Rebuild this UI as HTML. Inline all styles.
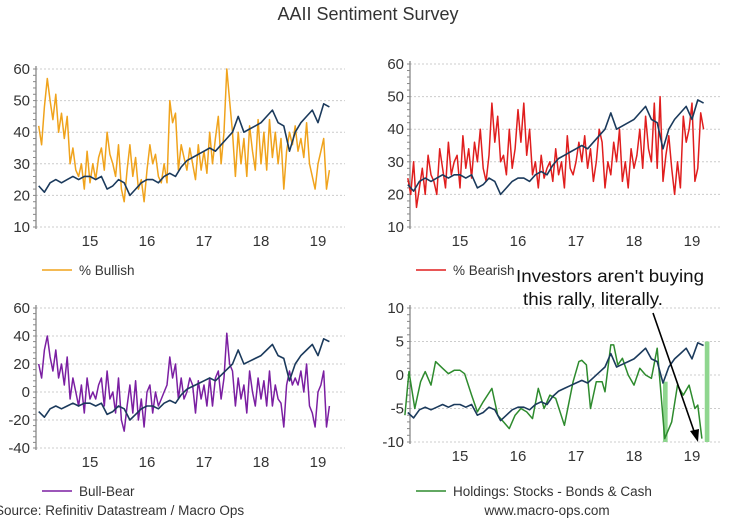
<!DOCTYPE html>
<html><head><meta charset="utf-8">
<style>
html,body{margin:0;padding:0;background:#fff;}
svg{display:block;font-family:"Liberation Sans",sans-serif;}
</style></head>
<body>
<svg id="c" width="735" height="518" viewBox="0 0 735 518">
<text x="368" y="20" text-anchor="middle" font-size="18" fill="#333">AAII Sentiment Survey</text>
<g id="g"></g>
<text x="-5" y="515" font-size="13.5" fill="#333">Source: Refinitiv Datastream / Macro Ops</text>
<text x="547" y="515" text-anchor="middle" font-size="13.5" fill="#333">www.macro-ops.com</text>
<text x="610" y="282" text-anchor="middle" font-size="17.5" fill="#111" textLength="188" lengthAdjust="spacingAndGlyphs">Investors aren't buying</text>
<text x="593" y="305" text-anchor="middle" font-size="17.5" fill="#111" textLength="140" lengthAdjust="spacingAndGlyphs">this rally, literally.</text>
<line x1="653" y1="313" x2="695" y2="434" stroke="#000" stroke-width="1.6"/>
<polygon points="698,442 690,431 699,429" fill="#000"/>
</svg>
<script>
const yearTicks=[15,16,17,18,19];
const tickLabels=["15","16","17","18","19"];
const stepStart=14.1, step=0.05;
const bullish=[42,36,48,57,50,44,52,40,46,38,45,30,35,28,26,30,22,34,24,30,25,32,35,28,40,33,30,26,36,22,18,28,36,26,32,22,25,18,28,36,30,33,26,24,30,24,50,43,46,28,36,32,28,35,30,25,36,28,34,27,40,30,38,45,30,40,60,50,40,26,40,30,38,26,42,34,28,44,30,40,28,44,32,40,30,38,22,34,40,36,42,34,38,32,43,30,26,22,30,34,38,22,28];
const bearish=[25,20,30,16,22,28,20,32,26,24,20,34,28,22,36,26,30,32,22,38,28,34,25,36,30,40,28,24,32,48,36,44,30,32,26,40,28,34,46,36,48,32,40,26,30,22,32,25,28,30,24,34,26,30,22,38,28,26,30,36,30,38,28,34,24,30,40,36,22,30,26,36,30,40,24,30,22,34,28,32,40,28,44,34,30,48,28,50,24,32,38,28,20,30,22,44,36,40,48,24,28,45,40];
const bullBear=[20,10,30,40,25,15,30,10,20,5,25,-5,10,0,-10,5,-15,10,-5,0,-5,5,10,-10,15,-5,0,-15,10,-20,-28,-10,5,-15,8,-20,-5,-25,0,5,-15,0,-10,-5,0,5,25,10,20,-5,10,-5,0,10,5,-15,8,-5,5,-10,10,-10,10,15,-5,10,42,20,15,-10,10,-5,5,-15,15,0,-10,10,-5,8,-10,15,-10,5,-5,-8,-25,5,15,5,10,5,15,0,20,-10,-15,-25,0,5,15,-25,-10];
const indexStart=14.1, indexStep=0.1;
const marketIndex=[23,21,24,25,24,25,26,25,26,26,25,26,22,23,25,24,20,22,24,25,25,24,26,27,26,29,31,32,33,34,35,34,36,38,40,45,40,41,42,43,45,47,43,42,34,40,43,45,47,43,49,48];
const holdT=[14.05,14.12,14.22,14.32,14.4,14.5,14.58,14.7,14.8,14.9,15.0,15.08,15.2,15.3,15.4,15.55,15.65,15.75,15.85,15.95,16.05,16.15,16.25,16.35,16.45,16.55,16.65,16.8,16.95,17.05,17.1,17.18,17.25,17.35,17.45,17.5,17.6,17.65,17.72,17.8,17.9,18.0,18.1,18.2,18.3,18.4,18.53,18.65,18.75,18.85,18.95,19.05,19.1,19.17];
const holdV=[-6,0.5,-5,-1,0.5,-1.5,2,1,0.2,0.7,0.7,0.2,-3,-5.5,-4,-2,-6,-7,-8,-6,-5,-5.5,-6.5,-2,-5,-3,-3.5,-7.5,-1,2,2.2,1.5,-5,-1,-1,-2.5,4.5,4.5,1.5,2.5,0,-1.5,1,0,-0.5,4,-9.5,-7,-1.5,-3,-1.5,-5,-4.5,-9.5];
const shadeT=[[18.5,18.58],[19.22,19.3]];
const shadeTop=[-1,5];

const NS="http://www.w3.org/2000/svg";
const G=document.getElementById('g');
function mk(tag,attrs,parent){const e=document.createElementNS(NS,tag);for(const k in attrs)e.setAttribute(k,attrs[k]);(parent||G).appendChild(e);return e;}

const panels=[
 {name:'bullish',x0:36,x1:345,y0:69,y1:227,vmin:10,vmax:60,ticks:[10,20,30,40,50,60],yr15:90,yw:57,col:'#f0a31c',ser:bullish,leg:'% Bullish',ly:270,ibase:0,iscale:1},
 {name:'bearish',x0:410,x1:720,y0:64,y1:227,vmin:10,vmax:60,ticks:[10,20,30,40,50,60],yr15:460,yw:58,col:'#e01e1e',ser:bearish,leg:'% Bearish',ly:270,ibase:0,iscale:1},
 {name:'bull-bear',x0:36,x1:345,y0:308,y1:448,vmin:-40,vmax:60,ticks:[-40,-20,0,20,40,60],yr15:90,yw:57,col:'#7b1fa2',ser:bullBear,leg:'Bull-Bear',ly:491,ibase:30,iscale:2},
 {name:'holdings',x0:410,x1:720,y0:308,y1:442,vmin:-10,vmax:10,ticks:[-10,-5,0,5,10],yr15:460,yw:58,col:'#2e8b2e',ser:null,leg:'Holdings: Stocks - Bonds & Cash',ly:491,ibase:37,iscale:0.4}
];
panels.forEach(p=>{
 const gp=mk('g',{});
 
 
 const X=t=>p.yr15+(t-15)*p.yw;
 const Y=v=>p.y1-(v-p.vmin)/(p.vmax-p.vmin)*(p.y1-p.y0);
 p.ticks.forEach(v=>{
  const gl=mk('line',{x1:p.x0,x2:p.x1,y1:Y(v),y2:Y(v),stroke:'#ccc','stroke-dasharray':'2,2','stroke-width':1},gp);
  
  
  const tl=mk('text',{x:p.x0-6,y:Y(v)+5,'text-anchor':'end','font-size':15,fill:'#333'},gp);
  tl.textContent=String(v);
  
  
 });
 const ax=mk('line',{x1:p.x0,x2:p.x0,y1:p.y0-3,y2:p.y1+2,stroke:'#666'},gp);
 
 
 for(let v=p.vmin;v<=p.vmax;v+=(p.ticks[1]-p.ticks[0])/5){mk('line',{x1:p.x0-3,x2:p.x0,y1:Y(v),y2:Y(v),stroke:'#888'},gp);}
 yearTicks.forEach((t,i)=>{
  const xl=mk('text',{x:X(t),y:p.y1+19,'text-anchor':'middle','font-size':15,fill:'#333'},gp);
  xl.textContent=tickLabels[i];
  
  
 });
 if(p.name==='holdings'){
  shadeT.forEach((s,i)=>{
   const r=mk('rect',{x:X(s[0]),width:X(s[1])-X(s[0]),y:Y(shadeTop[i]),height:Y(-10)-Y(shadeTop[i]),fill:'#8fd68f'},gp);
   
   
  });
 }
 let d='';
 if(p.ser){p.ser.forEach((v,i)=>{d+=(i?'L':'M')+X(stepStart+i*step).toFixed(1)+','+Y(v).toFixed(1);});}
 else{holdV.forEach((v,i)=>{d+=(i?'L':'M')+X(holdT[i]).toFixed(1)+','+Y(v).toFixed(1);});}
 const sl=mk('path',{d:d,fill:'none',stroke:p.col,'stroke-width':1.5,'stroke-linejoin':'round'},gp);
 
 
 let d2='';
 marketIndex.forEach((v,i)=>{const vv=(v-p.ibase)*p.iscale;d2+=(i?'L':'M')+X(indexStart+i*indexStep).toFixed(1)+','+Y(vv).toFixed(1);});
 const il=mk('path',{d:d2,fill:'none',stroke:'#1b3a5c','stroke-width':1.6,'stroke-linejoin':'round'},gp);
 
 
 const lx=p.x0+6;
 const lg=mk('line',{x1:lx,x2:lx+30,y1:p.ly,y2:p.ly,stroke:p.col,'stroke-width':1.6},gp);
 
 
 const lt=mk('text',{x:lx+37,y:p.ly+5,'font-size':13.5,fill:'#333'},gp);
 lt.textContent=p.leg;
 
 
});
</script>
</body></html>
